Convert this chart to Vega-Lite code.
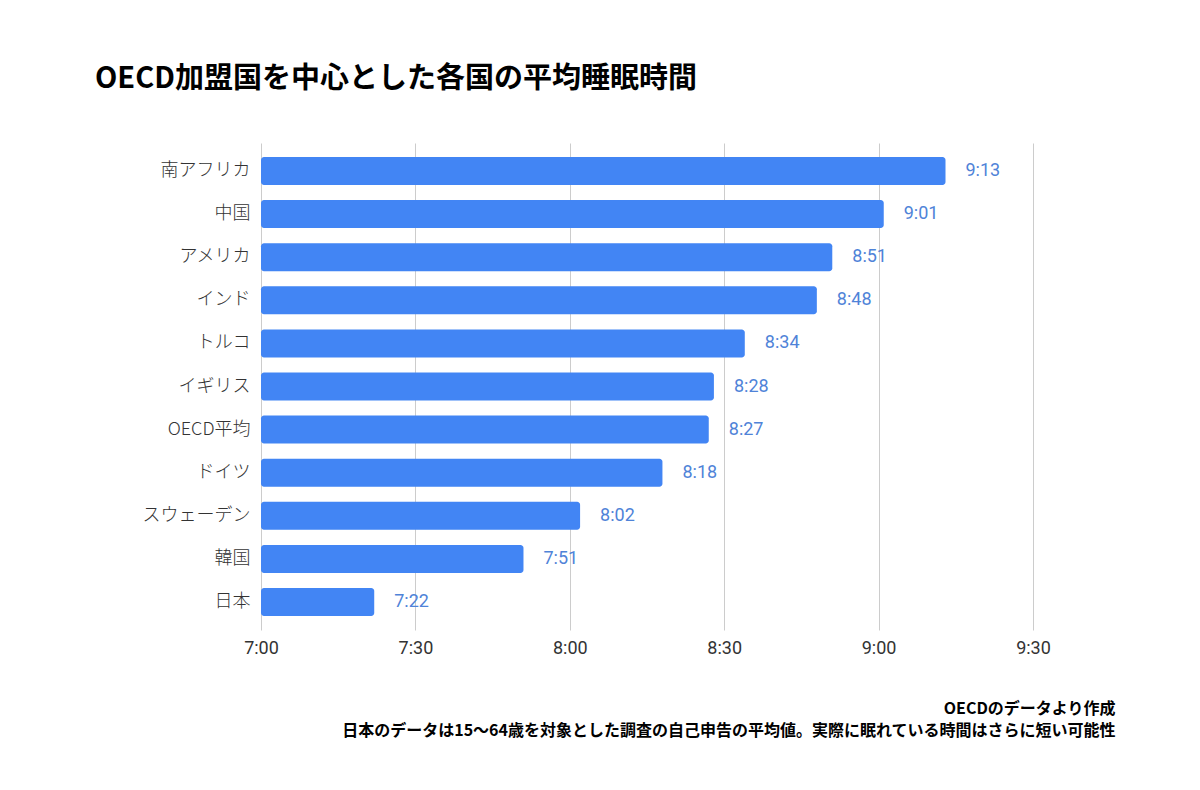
{
  "$schema": "https://vega.github.io/schema/vega-lite/v6.json",
  "width": 772,
  "height": 487,
  "autosize": {"type": "none"},
  "padding": {"left": 261, "top": 143, "right": 167, "bottom": 160},
  "background": "white",
  "title": {
    "text": "OECD加盟国を中心とした各国の平均睡眠時間",
    "anchor": "start",
    "frame": "group",
    "dx": -166,
    "offset": 20,
    "baseline": "bottom",
    "fontSize": 29,
    "font": "Noto Sans CJK JP",
    "fontWeight": "bold",
    "color": "#000000"
  },
  "data": {
    "values": [
      {"country": "南アフリカ", "minutes": 553, "label": "9:13"},
      {"country": "中国", "minutes": 541, "label": "9:01"},
      {"country": "アメリカ", "minutes": 531, "label": "8:51"},
      {"country": "インド", "minutes": 528, "label": "8:48"},
      {"country": "トルコ", "minutes": 514, "label": "8:34"},
      {"country": "イギリス", "minutes": 508, "label": "8:28"},
      {"country": "OECD平均", "minutes": 507, "label": "8:27"},
      {"country": "ドイツ", "minutes": 498, "label": "8:18"},
      {"country": "スウェーデン", "minutes": 482, "label": "8:02"},
      {"country": "韓国", "minutes": 471, "label": "7:51"},
      {"country": "日本", "minutes": 442, "label": "7:22"}
    ]
  },
  "encoding": {
    "y": {
      "field": "country",
      "type": "nominal",
      "sort": null,
      "scale": {"paddingInner": 0.35, "paddingOuter": 0.325},
      "axis": {
        "title": null,
        "domain": false,
        "ticks": false,
        "grid": false,
        "labelPadding": 11,
        "labelFontSize": 18,
        "labelFont": "Noto Sans CJK JP",
        "labelFontWeight": 300,
        "labelColor": "#333333"
      }
    }
  },
  "layer": [
    {
      "mark": {"type": "bar", "color": "#4285F4", "cornerRadius": 3},
      "encoding": {
        "x": {
          "field": "minutes",
          "type": "quantitative",
          "scale": {"domain": [420, 570], "nice": false, "zero": false},
          "axis": {
            "values": [420, 450, 480, 510, 540, 570],
            "labelExpr": "floor(datum.value/60) + ':' + (datum.value % 60 < 10 ? '0' : '') + (datum.value % 60)",
            "labelFlush": false,
            "labelAlign": "center",
            "domain": false,
            "ticks": false,
            "grid": true,
            "gridColor": "#cccccc",
            "gridWidth": 1,
            "labelPadding": 9,
            "labelFontSize": 18,
            "labelFont": "Roboto",
            "labelColor": "#333333",
            "title": ["OECDのデータより作成", "日本のデータは15〜64歳を対象とした調査の自己申告の平均値。実際に眠れている時間はさらに短い可能性"],
            "titleAnchor": "end",
            "titleAlign": "right",
            "titleX": 854,
            "titleY": 70,
            "titleBaseline": "top",
            "titleLineHeight": 22,
            "titleFontSize": 16,
            "titleFont": "Noto Sans CJK JP",
            "titleFontWeight": "bold",
            "titleColor": "#000000"
          }
        },
        "x2": {"datum": 420}
      }
    },
    {
      "mark": {"type": "text", "align": "left", "baseline": "middle", "dx": 20, "fontSize": 18, "font": "Roboto", "color": "#4f83d8"},
      "encoding": {
        "x": {"field": "minutes", "type": "quantitative"},
        "text": {"field": "label", "type": "nominal"}
      }
    }
  ],
  "config": {"view": {"stroke": null}}
}
